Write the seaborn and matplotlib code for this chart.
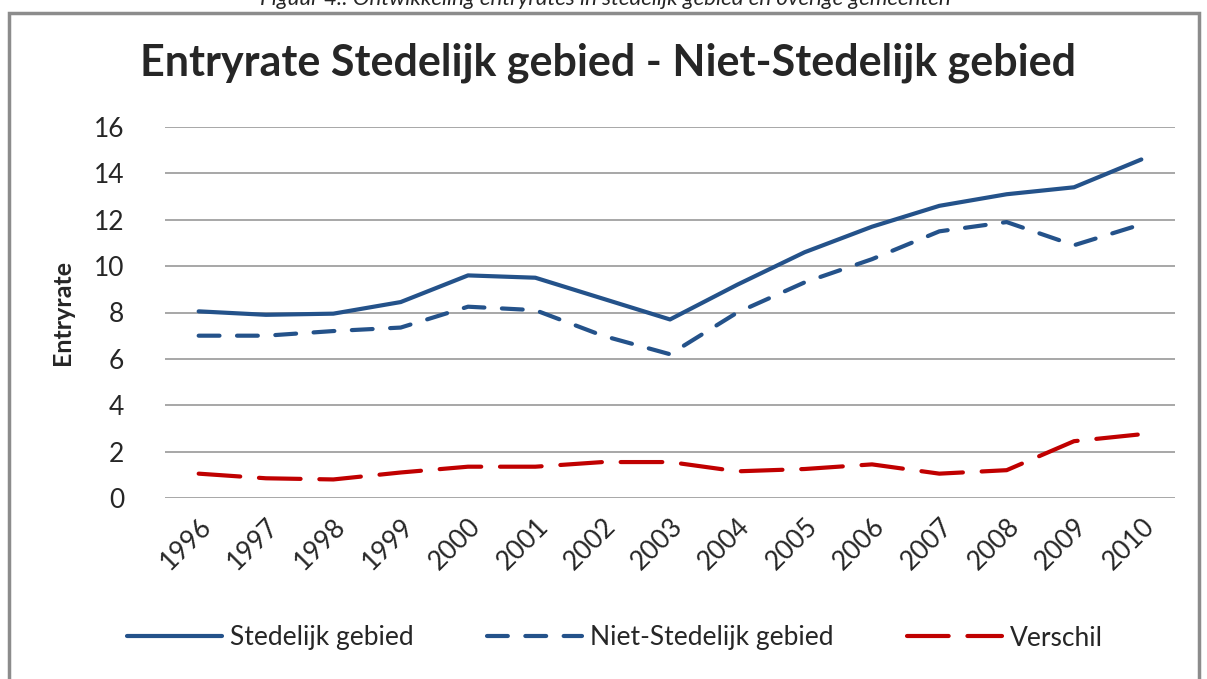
import pandas as pd
import matplotlib.pyplot as plt
import seaborn as sns
from matplotlib.patches import Rectangle

# Gegevens
jaren = list(range(1996, 2011))
stedelijk = [8.05, 7.9, 7.95, 8.45, 9.6, 9.5, 8.6, 7.7, 9.2, 10.6, 11.7, 12.6, 13.1, 13.4, 14.6]
niet_stedelijk = [7.0, 7.0, 7.2, 7.35, 8.25, 8.1, 7.0, 6.2, 8.0, 9.3, 10.3, 11.5, 11.9, 10.9, 11.8]
verschil = [1.05, 0.85, 0.8, 1.1, 1.35, 1.35, 1.55, 1.55, 1.15, 1.25, 1.45, 1.05, 1.2, 2.45, 2.75]

series = ["Stedelijk gebied", "Niet-Stedelijk gebied", "Verschil"]
kleuren = {"Stedelijk gebied": "#24528A", "Niet-Stedelijk gebied": "#24528A", "Verschil": "#C00000"}
streep = {"Stedelijk gebied": "", "Niet-Stedelijk gebied": (5, 4.2), "Verschil": (10, 4.5)}

df = pd.concat([
    pd.DataFrame({"jaar": jaren, "waarde": vals, "serie": naam})
    for naam, vals in zip(series, [stedelijk, niet_stedelijk, verschil])
])

sns.set_style("white")
plt.rcParams['font.family'] = ['Lato', 'DejaVu Sans']

fig = plt.figure(figsize=(12.07, 6.79), dpi=100)
ax = fig.add_axes([165 / 1207, 1 - 498 / 679, 1010 / 1207, 371 / 679])

sns.lineplot(data=df, x="jaar", y="waarde", hue="serie", style="serie",
             hue_order=series, style_order=series, palette=kleuren, dashes=streep,
             linewidth=3, ax=ax, legend=False)
for line in ax.lines:
    line.set_solid_capstyle("round")
    line.set_dash_capstyle("round")

ax.set_xlim(1995.5, 2010.5)
ax.set_ylim(0, 16)
ax.set_yticks(range(0, 17, 2))
ax.set_xticks(jaren)
ax.set_xticklabels([str(j) for j in jaren], rotation=45, ha="right", rotation_mode="anchor", fontsize=19)
ax.tick_params(axis="y", labelsize=19, pad=26)
ax.tick_params(axis="x", pad=8)
ax.grid(axis="y", color="#A0A0A0", linewidth=1.3)
ax.set_axisbelow(True)
for s in ax.spines.values():
    s.set_visible(False)
ax.set_xlabel("")
ax.set_ylabel("Entryrate", fontsize=18, fontweight="bold", labelpad=14)

fig.text(608 / 1207, 1 - 63 / 679, "Entryrate Stedelijk gebied - Niet-Stedelijk gebied",
         ha="center", va="center", fontsize=31, fontweight="bold")

# afgesneden bijschrift boven de kader
fig.text(605 / 1207, 1 - 5 / 679,
         "Figuur 4.: Ontwikkeling entryrates in stedelijk gebied en overige gemeenten",
         ha="center", va="baseline", fontsize=16, style="italic")

# grijze kader rond de grafiek
fig.patches.append(Rectangle((9 / 1207, -0.1), 1190 / 1207, 1.1 - 13 / 679,
                             transform=fig.transFigure, fill=False,
                             edgecolor="#8C8C8C", linewidth=2.5))

handles = [plt.Line2D([], [], color=kleuren[n], linewidth=3,
                      linestyle=(0, streep[n]) if streep[n] else "-",
                      solid_capstyle="round", dash_capstyle="round") for n in series]
fig.legend(handles, series, loc="center", bbox_to_anchor=(615 / 1207, 1 - 638 / 679),
           ncol=3, frameon=False, fontsize=19, handlelength=3.6, columnspacing=2.8,
           handletextpad=0.3)

fig.savefig("out.png", dpi=100)
